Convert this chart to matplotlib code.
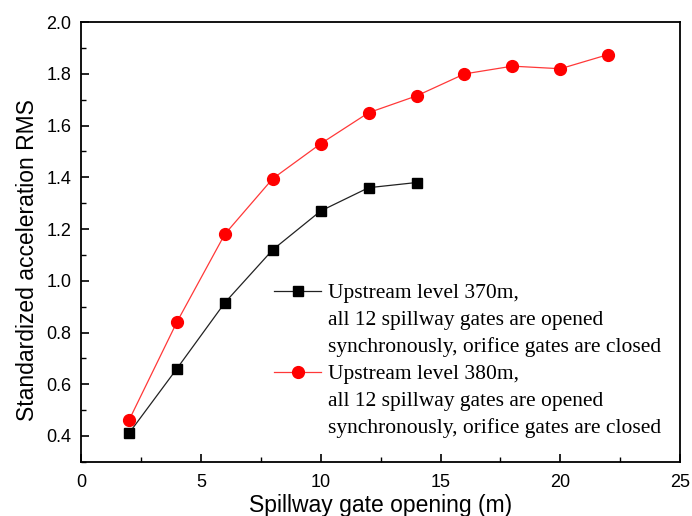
import matplotlib.pyplot as plt
from matplotlib.lines import Line2D
from matplotlib.ticker import MultipleLocator

# gate opening (m) and standardized acceleration RMS
x_370 = [2, 4, 6, 8, 10, 12, 14]
rms_370 = [0.41, 0.66, 0.915, 1.12, 1.27, 1.36, 1.38]
x_380 = [2, 4, 6, 8, 10, 12, 14, 16, 18, 20, 22]
rms_380 = [0.46, 0.84, 1.18, 1.395, 1.53, 1.65, 1.715, 1.80, 1.83, 1.82, 1.875]

label_370 = ["Upstream level 370m,", "all 12 spillway gates are opened",
             "synchronously, orifice gates are closed"]
label_380 = ["Upstream level 380m,", "all 12 spillway gates are opened",
             "synchronously, orifice gates are closed"]

plt.rcParams['font.family'] = 'Liberation Sans'

fig = plt.figure(figsize=(6.92, 5.16), dpi=100)
ax = fig.add_axes([0.117, 0.105, 0.866, 0.852])

l1, = ax.plot(x_370, rms_370, color='#222222', lw=0.9, marker='s', ms=7,
              mfc='black', mec='black')
l2, = ax.plot(x_380, rms_380, color='#ff3838', lw=0.9, marker='o', ms=8.5,
              mfc='red', mec='red')

ax.set_xlim(0, 25)
ax.set_ylim(0.3, 2.0)
ax.xaxis.set_major_locator(MultipleLocator(5))
ax.xaxis.set_minor_locator(MultipleLocator(2.5))
ax.yaxis.set_major_locator(MultipleLocator(0.2))
ax.yaxis.set_minor_locator(MultipleLocator(0.1))
ax.tick_params(which='both', direction='in', top=False, right=False, labelsize=13)
ax.tick_params(which='major', length=6, width=1.2)
ax.tick_params(which='minor', length=3.5, width=1.0)
ax.tick_params(axis='x', which='major', pad=9)
ax.tick_params(axis='y', which='major', pad=7)
ax.set_yticks([0.4, 0.6, 0.8, 1.0, 1.2, 1.4, 1.6, 1.8, 2.0])
ax.set_yticklabels([f"{v:.1f}" for v in ax.get_yticks()])
for s in ax.spines.values():
    s.set_linewidth(1.3)

ax.set_xlabel("Spillway gate opening (m)", fontsize=16.5, labelpad=2)
ax.set_ylabel("Standardized acceleration RMS", fontsize=16.5, labelpad=5)
ax.yaxis.label.set_y(0.46)  # label sits a bit below the axis centre

blank = Line2D([], [], linestyle='none')
handles = [l1, blank, blank, l2, blank, blank]
labels = label_370 + label_380
ax.legend(handles, labels, loc='lower right', bbox_to_anchor=(0.993, 0.02),
          frameon=False, prop={'family': 'Liberation Serif', 'size': 15.5},
          labelspacing=0.32, handlelength=2.15, handletextpad=0.33,
          borderaxespad=0.3)

fig.savefig('out.png', dpi=100)
